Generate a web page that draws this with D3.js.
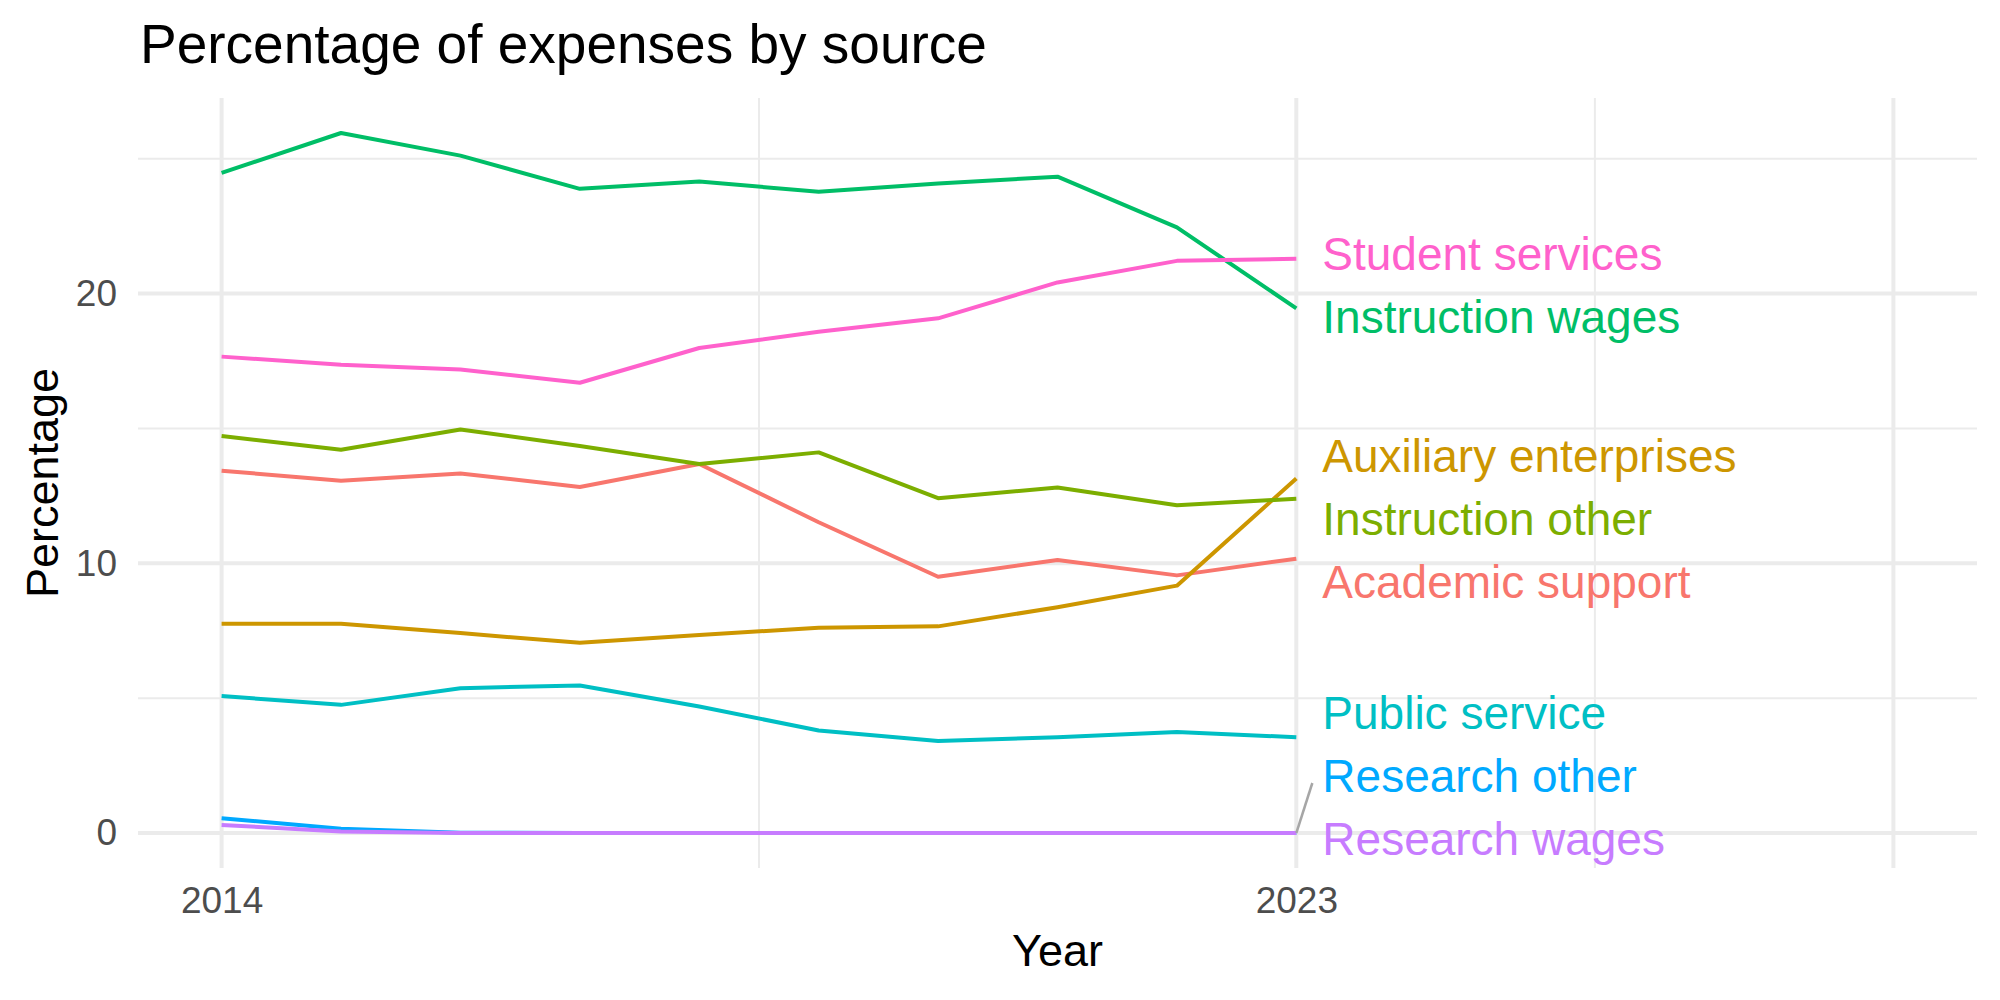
<!DOCTYPE html>
<html>
<head>
<meta charset="utf-8">
<script src="https://cdn.jsdelivr.net/npm/d3@7"></script>
<style>
  body { margin: 0; background: #fff; }
  svg { font-family: "Liberation Sans", Arial, Helvetica, sans-serif; }
</style>
</head>
<body>
<div id="chart"></div>
<script>
// values
var years = [2014, 2015, 2016, 2017, 2018, 2019, 2020, 2021, 2022, 2023];

var academicSupport    = [13.43, 13.06, 13.33, 12.83, 13.68, 11.52, 9.50, 10.12, 9.55, 10.17];
var auxiliaryEnterpr   = [7.76, 7.76, 7.41, 7.05, 7.34, 7.61, 7.66, 8.37, 9.17, 13.14];
var instructionOther   = [14.72, 14.21, 14.96, 14.35, 13.68, 14.11, 12.41, 12.81, 12.15, 12.39];
var instructionWages   = [24.47, 25.95, 25.11, 23.88, 24.15, 23.77, 24.08, 24.33, 22.45, 19.45];
var publicService      = [5.08, 4.75, 5.37, 5.47, 4.69, 3.80, 3.41, 3.55, 3.74, 3.55];
var researchOther      = [0.55, 0.16, 0.01, 0, 0, 0, 0, 0, 0, 0];
var researchWages      = [0.30, 0.06, 0, 0, 0, 0, 0, 0, 0, 0];
var studentServices    = [17.66, 17.36, 17.18, 16.69, 17.98, 18.58, 19.08, 20.41, 21.21, 21.29];

var seriesNames  = ["Academic support", "Auxiliary enterprises", "Instruction other", "Instruction wages",
                    "Public service", "Research other", "Research wages", "Student services"];
var seriesValues = [academicSupport, auxiliaryEnterpr, instructionOther, instructionWages,
                    publicService, researchOther, researchWages, studentServices];
var seriesColors = ["#F8766D", "#CD9600", "#7CAE00", "#00BE67", "#00BFC4", "#00A9FF", "#C77CFF", "#FF61CC"];

var xTicks = [2014, 2023];
var yTicks = [0, 10, 20];
var xMajorGrid = [2014, 2023, 2028];
var xMinorGrid = [2018.5, 2025.5];
var yMinorGrid = [5, 15, 25];

var W = 2000, H = 1000;
var panel = {left: 138, right: 1977, top: 98, bottom: 868};

var svg = d3.select("#chart").append("svg")
  .attr("width", W).attr("height", H);

var x = d3.scaleLinear().domain([2013.3, 2028.7]).range([panel.left, panel.right]);
var yMax = d3.max(seriesValues, function(s){ return d3.max(s); });
var pad = yMax * 0.05;
var y = d3.scaleLinear().domain([-pad, yMax + pad]).range([panel.bottom, panel.top]);

// grid
var grid = svg.append("g");
grid.selectAll(".ymin").data(yMinorGrid).enter().append("line")
  .attr("x1", panel.left).attr("x2", panel.right)
  .attr("y1", function(d){ return y(d); }).attr("y2", function(d){ return y(d); })
  .style("stroke", "#EBEBEB").style("stroke-width", 2);
grid.selectAll(".xmin").data(xMinorGrid).enter().append("line")
  .attr("y1", panel.top).attr("y2", panel.bottom)
  .attr("x1", function(d){ return x(d); }).attr("x2", function(d){ return x(d); })
  .style("stroke", "#EBEBEB").style("stroke-width", 2);
grid.selectAll(".ymaj").data(yTicks).enter().append("line")
  .attr("x1", panel.left).attr("x2", panel.right)
  .attr("y1", function(d){ return y(d); }).attr("y2", function(d){ return y(d); })
  .style("stroke", "#EBEBEB").style("stroke-width", 4);
grid.selectAll(".xmaj").data(xMajorGrid).enter().append("line")
  .attr("y1", panel.top).attr("y2", panel.bottom)
  .attr("x1", function(d){ return x(d); }).attr("x2", function(d){ return x(d); })
  .style("stroke", "#EBEBEB").style("stroke-width", 4);

// axes (text only, like theme_minimal)
var yAxis = svg.append("g")
  .attr("transform", "translate(" + (panel.left - 21) + ",0)")
  .call(d3.axisLeft(y).tickValues(yTicks).tickSize(0).tickPadding(0).tickFormat(d3.format("d")));
yAxis.select(".domain").remove();
yAxis.selectAll("text").style("font-size", "37px").style("fill", "#4D4D4D")
  .style("font-family", "'Liberation Sans', Arial, sans-serif");

var xAxis = svg.append("g")
  .attr("transform", "translate(0," + (panel.bottom + 19) + ")")
  .call(d3.axisBottom(x).tickValues(xTicks).tickSize(0).tickPadding(0).tickFormat(d3.format("d")));
xAxis.select(".domain").remove();
xAxis.selectAll("text").style("font-size", "37px").style("fill", "#4D4D4D")
  .style("font-family", "'Liberation Sans', Arial, sans-serif");

// lines
var line = d3.line()
  .x(function(d, i){ return x(years[i]); })
  .y(function(d){ return y(d); });

svg.append("g").selectAll("path")
  .data(seriesValues)
  .enter().append("path")
    .attr("d", line)
    .style("fill", "none")
    .style("stroke", function(d, i){ return seriesColors[i]; })
    .style("stroke-width", 4)
    .style("stroke-linejoin", "round");

// end labels, pushed apart vertically (like ggrepel)
var lastIdx = years.length - 1;
var labels = seriesNames.map(function(n, i){
  var py = y(seriesValues[i][lastIdx]);
  return {name: n, color: seriesColors[i], py: py, ly: py, order: i};
});
labels.sort(function(a, b){ return (a.py - b.py) || (a.order - b.order); });

var gap = 63, minY = panel.top + 20, maxY = panel.bottom - 30;
for (var it = 0; it < 500; it++) {
  for (var k = 0; k < labels.length - 1; k++) {
    var a = labels[k], b = labels[k + 1];
    var over = gap - (b.ly - a.ly);
    if (over > 0) { a.ly -= over * 0.4; b.ly += over * 0.6; }
  }
  labels.forEach(function(l){ l.ly = Math.max(minY, Math.min(maxY, l.ly)); });
}

var lx = x(years[lastIdx]) + 26;

svg.append("g").selectAll("line")
  .data(labels.filter(function(l){ return Math.abs(l.ly - l.py) > 40; }))
  .enter().append("line")
    .attr("x1", x(years[lastIdx])).attr("y1", function(d){ return d.py; })
    .attr("x2", lx - 10).attr("y2", function(d){ return d.ly + 8; })
    .style("stroke", "#A6A6A6").style("stroke-width", 2.5);

svg.append("g").selectAll("text")
  .data(labels)
  .enter().append("text")
    .attr("x", lx)
    .attr("y", function(d){ return d.ly; })
    .attr("dy", "0.36em")
    .style("font-size", "46px")
    .style("fill", function(d){ return d.color; })
    .text(function(d){ return d.name; });

// titles
svg.append("text")
  .attr("x", 140).attr("y", 63)
  .style("font-size", "55px").style("fill", "#000")
  .text("Percentage of expenses by source");

svg.append("text")
  .attr("x", (panel.left + panel.right) / 2).attr("y", 966)
  .attr("text-anchor", "middle")
  .style("font-size", "45px").style("fill", "#000")
  .text("Year");

svg.append("text")
  .attr("transform", "translate(58," + ((panel.top + panel.bottom) / 2) + ") rotate(-90)")
  .attr("text-anchor", "middle")
  .style("font-size", "45px").style("fill", "#000")
  .text("Percentage");
</script>
</body>
</html>
